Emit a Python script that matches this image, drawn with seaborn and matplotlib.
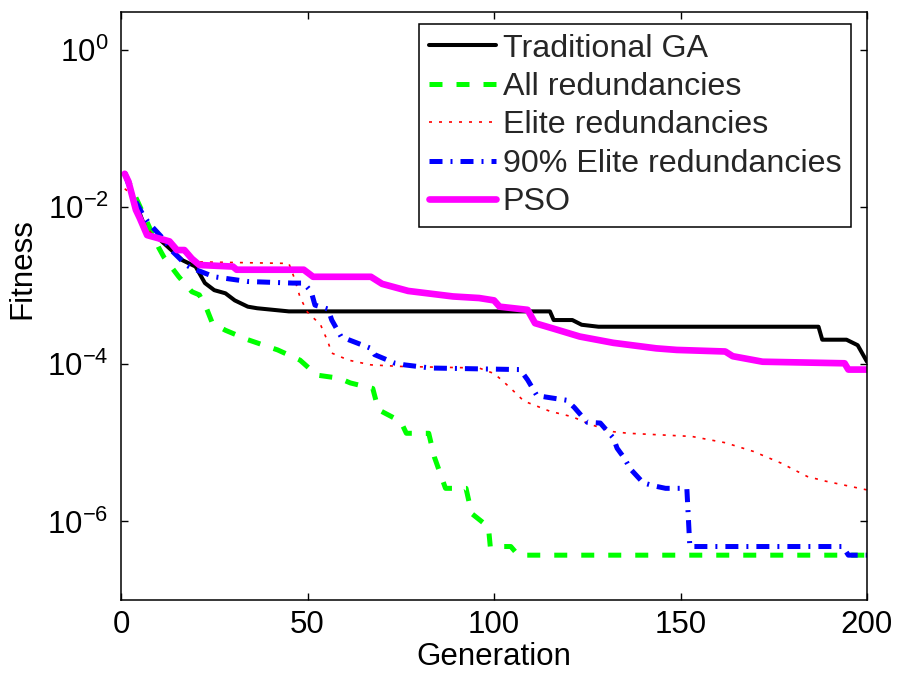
import numpy as np
import pandas as pd
import matplotlib
matplotlib.use("Agg")
import matplotlib.pyplot as plt
import seaborn as sns

# ---- data (generation, log10 fitness) ----
ga_gen = [1, 3, 5, 7, 10, 13.5, 16.5, 20, 22.5, 25, 28, 30.5, 34, 36.5, 45, 108,
          115, 116, 121, 123.5, 128, 187, 188, 194.5, 197.5, 200]
ga_log10 = [-1.57, -1.85, -2.08, -2.33, -2.40, -2.55, -2.68, -2.76, -2.97, -3.06,
            -3.10, -3.19, -3.27, -3.29, -3.33, -3.33, -3.33, -3.44, -3.44, -3.50,
            -3.525, -3.525, -3.69, -3.69, -3.76, -3.97]

all_gen = [1, 5.5, 10, 11.5, 15.5, 19, 21, 23, 24.5, 28, 34, 42, 48, 52.5, 58.5,
           61.5, 67.5, 69, 75, 76.5, 82.5, 84, 87, 92.5, 94, 98.5, 99, 104.5, 106.5, 200]
all_log10 = [-1.57, -2.04, -2.51, -2.64, -2.89, -3.08, -3.12, -3.30, -3.48, -3.57,
             -3.69, -3.82, -3.95, -4.14, -4.18, -4.24, -4.31, -4.58, -4.73, -4.88,
             -4.88, -5.18, -5.58, -5.58, -5.90, -6.07, -6.32, -6.32, -6.43, -6.43]

elite_gen = [1, 3, 5, 8, 12, 15, 18, 20, 45, 46.5, 48, 50, 53.5, 55.5, 56.5, 61, 67,
             75, 96, 100, 102, 104.3, 108, 115, 121, 126, 132, 136, 153, 162, 169.5,
             177, 184, 189, 198, 200]
elite_log10 = [-1.77, -1.85, -2.10, -2.33, -2.42, -2.52, -2.62, -2.70, -2.72, -2.91,
               -3.15, -3.34, -3.50, -3.72, -3.86, -3.95, -4.01, -4.03, -4.05, -4.12,
               -4.20, -4.30, -4.47, -4.60, -4.67, -4.77, -4.86, -4.88, -4.92, -5.00,
               -5.11, -5.26, -5.43, -5.49, -5.58, -5.60]

e90_gen = [1, 3, 6, 7.5, 12, 13, 17.5, 19, 25, 28, 34, 46, 49, 51, 52, 55.5, 56.5, 59,
           61, 67, 68, 73.5, 76, 83, 107, 109, 111.5, 114, 119.5, 121.5, 125, 128.5,
           132, 133, 135, 136.5, 140, 143, 146, 151.7, 152.5, 193.5, 195, 200]
e90_log10 = [-1.57, -1.85, -2.11, -2.21, -2.44, -2.53, -2.74, -2.78, -2.89, -2.91,
             -2.95, -2.97, -2.97, -3.08, -3.25, -3.30, -3.44, -3.65, -3.69, -3.80,
             -3.88, -3.99, -4.01, -4.05, -4.07, -4.20, -4.40, -4.42, -4.46, -4.55,
             -4.74, -4.75, -4.94, -5.07, -5.20, -5.33, -5.51, -5.55, -5.58, -5.58,
             -6.32, -6.32, -6.43, -6.43]

pso_gen = [1, 2, 4, 5, 7, 10, 13, 15, 17, 19, 21, 30, 31, 49, 51.5, 67, 70, 77, 89, 96,
           100, 101.5, 109, 111, 116, 123, 132, 143.5, 149, 162, 164, 172, 194, 195, 200]
pso_log10 = [-1.58, -1.68, -2.04, -2.14, -2.36, -2.40, -2.44, -2.55, -2.55, -2.66,
             -2.74, -2.76, -2.80, -2.80, -2.89, -2.89, -2.98, -3.07, -3.14, -3.16,
             -3.19, -3.27, -3.31, -3.48, -3.55, -3.65, -3.73, -3.80, -3.82, -3.84,
             -3.90, -3.97, -3.99, -4.07, -4.07]

labels = ["Traditional GA", "All redundancies", "Elite redundancies",
          "90% Elite redundancies", "PSO"]
x_ticks = [0, 50, 100, 150, 200]
y_ticks = [1e0, 1e-2, 1e-4, 1e-6]

# ---- style ----
sns.set_theme(style="white")
plt.rcParams["font.family"] = ["Liberation Sans", "DejaVu Sans"]
plt.rcParams["mathtext.fontset"] = "custom"
plt.rcParams["mathtext.rm"] = "Liberation Sans"
plt.rcParams["mathtext.it"] = "Liberation Sans"
plt.rcParams["mathtext.default"] = "regular"

FS = 22.5
LFS = 23.2
fig = plt.figure(figsize=(8.99, 6.80), dpi=100)
ax = fig.add_axes([121 / 899, 80 / 680, 746 / 899, 588 / 680])

series = [
    (ga_gen, ga_log10, dict(color="black", lw=2.9, linestyle="-")),
    (all_gen, all_log10, dict(color="#00ff00", lw=3.6, linestyle=(0, (2.6, 2.8)))),
    (elite_gen, elite_log10, dict(color="#ff0000", lw=1.2, linestyle=(0, (1.8, 4.2)))),
    (e90_gen, e90_log10, dict(color="#0000ff", lw=3.6, linestyle=(0, (2.6, 1.6, 0.4, 1.6)))),
    (pso_gen, pso_log10, dict(color="#ff00ff", lw=4.8, linestyle="-")),
]
for (g, lg, kw), lab in zip(series, labels):
    df = pd.DataFrame({"Generation": g, "Fitness": 10.0 ** np.asarray(lg)})
    sns.lineplot(data=df, x="Generation", y="Fitness", ax=ax, label=lab,
                 estimator=None, sort=False, **kw)

ax.set_yscale("log")
ax.set_xlim(0, 200)
ax.set_ylim(1e-7, 3)
ax.set_xticks(x_ticks)
ax.set_yticks(y_ticks)
ax.yaxis.set_minor_locator(matplotlib.ticker.NullLocator())
ax.tick_params(axis="both", which="major", direction="in", length=5, width=1,
               labelsize=FS, colors="black", top=True, right=True,
               bottom=True, left=True)
ax.tick_params(axis="x", pad=7)
ax.tick_params(axis="y", pad=9)
for s in ax.spines.values():
    s.set_color("black")
    s.set_linewidth(1.1)

ax.set_xlabel("Generation", fontsize=FS, color="black")
ax.set_ylabel("Fitness", fontsize=FS, color="black")
ax.xaxis.set_label_coords(0.5, -0.072)
ax.yaxis.set_label_coords(-0.112, 0.563)

leg = ax.legend(loc="upper right", bbox_to_anchor=(0.9786, 0.9796),
                borderaxespad=0, fontsize=LFS, frameon=True, fancybox=False,
                handlelength=2.1, handletextpad=0.2, labelspacing=0.26,
                borderpad=0.3)
leg.get_frame().set_edgecolor("black")
leg.get_frame().set_linewidth(1.1)
leg.get_frame().set_alpha(1)

fig.savefig("out.png", dpi=100, facecolor="white")
